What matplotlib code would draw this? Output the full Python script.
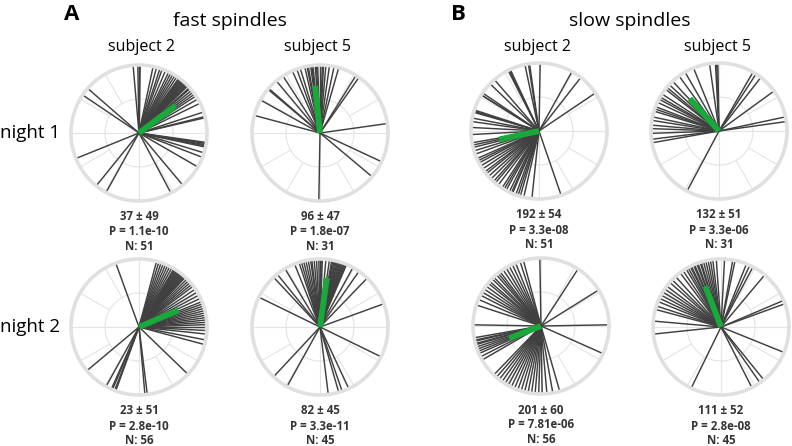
import numpy as np
import matplotlib
matplotlib.use("Agg")
import matplotlib.pyplot as plt

plt.rcParams['font.family'] = ['Open Sans', 'DejaVu Sans']

# spindle phase angles (degrees)
fast_s2_n1 = [95, 91, 90, 89, 146, 139, 202, 231, 241,
              -8, -9, -10, -11, -12, -17, -21, -30, -50, -62,
              13, 14, 18, 26,
              30, 33, 35, 37, 39, 41, 42, 44, 45, 46, 47, 48, 49, 50,
              51, 52, 53, 54, 56, 58, 60, 62, 64, 67, 70, 72, 75, 78]
fast_s5_n1 = [103, 100, 98, 96, 94, 92, 90, 88, 85, 82, 78, 74, 114, 110, 107,
              58, 55, 123, 130, 139, 140, 151, 165, 8, -25, -40, 269,
              87, 93, 97, 101]
slow_s2_n1 = [89, 98, 99, 102, 115, 117, 116, 61, 52, 34,
              131, 136, 146, 148, 148, 162, 163, 164, 169, 172, 177, 183,
              194, 197, 204, 208, 214, 219, 225, 230, 237, 241, 244, 247,
              250, 254, 257, 264, 289,
              190, 192, 200, 206, 211, 217, 222, 228, 233, 239, 246, 252]
slow_s5_n1 = [92, 91, 93, 98, 112, 126, 133, 140, 142, 147, 150, 152,
              159, 161, 163, 168, 175, 178, 182, 187, 190,
              60, 57, 52, 36, 12, 8, 242, 120, 137, 155, 171]
fast_s2_n2 = [110, -44, -85, -83, 220, 241, 246, 247, 249, 250,
              75, 73, 71, 69, 67, 65, 63, 61, 59, 58, 57, 56, 55, 54, 53,
              52, 51, 50, 49, 48, 47, 45, 43, 41, 39, 37, 34, 31, 28, 25,
              22, 20, 18, 16, 14, 12, 10, 8, 6, 4, 2, 0, -3, -6, -11, -15]
fast_s5_n2 = [121, 129, 133, 154, 61, 55, 46, 20, -26, -65, -71, -74, -83,
              227, 241,
              108, 106, 104, 102, 100, 98, 97, 95, 93, 91, 90, 89, 88, 85,
              82, 80, 79, 78, 77, 76, 75, 74, 73, 72, 71, 70, 69, 68, 67, 112]
slow_s2_n2 = [91, 105, 108, 112, 115, 57, 32, 1, -24, 179,
              118, 121, 124, 127, 129, 131, 134, 136, 139, 141, 144, 147,
              150, 153, 157, 162,
              190, 192, 193, 195, 196, 198, 200, 202, 204, 207, 210,
              226, 229, 232, 235, 238, 241, 244, 247, 250, 253, 256, 259,
              262, 265, 268, 271, 275, 280, 286]
slow_s5_n2 = [87, 78, 80, 94, 97, 101, 105, 108, 111, 114, 117, 121,
              68, 65, 62, 50, 23, 20,
              132, 143, 149, 155, 162, 165, 175, 186,
              -22, -51, -55, -63, 244,
              99, 103, 107, 110, 113, 116, 119, 124, 127, 136, 139, 146, 152, 158]

# mean direction (deg), resultant length, stats text
panel_angles = [fast_s2_n1, fast_s5_n1, slow_s2_n1, slow_s5_n1,
                fast_s2_n2, fast_s5_n2, slow_s2_n2, slow_s5_n2]
mean_dir = [37, 96, 192, 132, 23, 82, 201, 111]
mean_len = [0.67, 0.70, 0.60, 0.64, 0.63, 0.73, 0.50, 0.64]
mean_sd = ["37 \u00b1 49", "96 \u00b1 47", "192 \u00b1 54", "132 \u00b1 51",
           "23 \u00b1 51", "82 \u00b1 45", "201 \u00b1 60", "111 \u00b1 52"]
p_vals = ["1.1e-10", "1.8e-07", "3.3e-08", "3.3e-06",
          "2.8e-10", "3.3e-11", "7.81e-06", "2.8e-08"]
n_vals = [51, 31, 51, 31, 56, 45, 56, 45]

W, H = 792, 446
fig = plt.figure(figsize=(W / 100, H / 100), dpi=100)

centers = [(139, 133), (320, 133), (539, 131), (719, 131),
           (139, 327), (320, 327), (541, 326), (721, 327)]
R = 68

line_col = '#404040'
grid_col = '#e4e4e4'
green = '#17aa3a'


def fx(x):
    return x / W


def fy(y):
    return 1 - y / H


for i, (cx, cy) in enumerate(centers):
    ax = fig.add_axes([fx(cx - R), fy(cy + R), 2 * R / W, 2 * R / H],
                      projection='polar')
    ax.set_ylim(0, 1)
    ax.set_xticks([])
    ax.set_yticks([])
    ax.grid(False)
    ax.spines['polar'].set_color('#e0e0e0')
    ax.spines['polar'].set_linewidth(2.6)
    # grid
    tt = np.linspace(0, 2 * np.pi, 300)
    ax.plot(tt, np.full_like(tt, 0.5), color=grid_col, lw=0.8, zorder=1)
    for a in range(0, 360, 30):
        t = np.deg2rad(a)
        r0 = 0 if a % 90 == 0 else 0.5
        ax.plot([t, t], [r0, 1], color=grid_col, lw=0.8, zorder=1)
    # spindles
    for a in panel_angles[i]:
        t = np.deg2rad(a)
        ax.plot([t, t], [0, 1], color=line_col, lw=1.05, zorder=2,
                solid_capstyle='butt')
    t = np.deg2rad(mean_dir[i])
    ax.plot([t, t], [0, mean_len[i]], color=green, lw=4.2, zorder=3,
            solid_capstyle='butt')

    ty = cy + 84
    txt_kw = dict(ha='center', va='center', fontsize=8.3, fontweight='bold',
                  color='#333333')
    fig.text(fx(cx), fy(ty), mean_sd[i], **txt_kw)
    fig.text(fx(cx), fy(ty + 15), "P = " + p_vals[i], **txt_kw)
    fig.text(fx(cx), fy(ty + 29.5), "N: %d" % n_vals[i], **txt_kw)

# titles
fig.text(fx(72), fy(14), "A", ha='center', va='center', fontsize=16,
         fontweight='bold', color='black')
fig.text(fx(458), fy(14), "B", ha='center', va='center', fontsize=16,
         fontweight='bold', color='black')
fig.text(fx(230), fy(21), "fast spindles", ha='center', va='center', fontsize=14)
fig.text(fx(630), fy(21), "slow spindles", ha='center', va='center', fontsize=14)
for x, s in [(141, "subject 2"), (318, "subject 5"), (538, "subject 2"), (717, "subject 5")]:
    fig.text(fx(x), fy(47), s, ha='center', va='center', fontsize=11.5)
fig.text(fx(0), fy(133), "night 1", ha='left', va='center', fontsize=13.5)
fig.text(fx(0), fy(327), "night 2", ha='left', va='center', fontsize=13.5)

fig.savefig("out.png", dpi=100)
